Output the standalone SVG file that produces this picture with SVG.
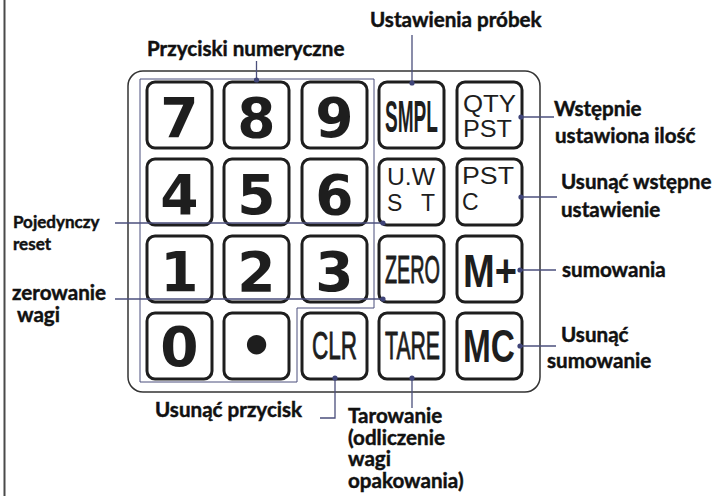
<svg xmlns="http://www.w3.org/2000/svg" width="719" height="496" viewBox="0 0 719 496">
<style>
.key{fill:#fff;stroke:#1e1e1e;stroke-width:3}
.dig{font-family:"DejaVu Sans",sans-serif;font-weight:bold;font-size:55px;fill:#1e1e1e;text-anchor:middle}
.nar{font-family:"Liberation Sans",Arial,sans-serif;font-weight:bold;fill:#1e1e1e}
.thin{font-family:"Liberation Sans",Arial,sans-serif;fill:#1e1e1e;stroke:#1e1e1e;stroke-width:0.9}
.reg{font-family:"Liberation Sans",Arial,sans-serif;fill:#1e1e1e;font-size:23px}
.lbl{font-family:Lato,"Open Sans",sans-serif;font-weight:bold;font-size:20.6px;fill:#111;stroke:#111;stroke-width:0.45}
.sm{font-size:17px}
.con{fill:none;stroke:#4b4f7c;stroke-width:1.3}
.grp{fill:none;stroke:#4b4f7c;stroke-width:1}
</style>
<defs>
<marker id="dot" markerWidth="6" markerHeight="6" refX="3" refY="3" markerUnits="userSpaceOnUse"><circle cx="3" cy="3" r="2.6" fill="#3f4478"/></marker>
</defs>
<line x1="4.5" y1="0" x2="4.5" y2="496" stroke="#4a4a4a" stroke-width="2"/>
<g id="keypad">
<rect x="128" y="71" width="412" height="321" rx="15" fill="#fff" stroke="#333" stroke-width="1.5"/>
<path class="grp" d="M140,79 H374 V308 H297 V382 H140 Z"/>
</g>
<g id="key-7"><rect class="key" x="147" y="82" width="65" height="66" rx="8"/><text class="dig" x="179.5" y="137">7</text></g>
<g id="key-8"><rect class="key" x="224" y="82" width="65" height="66" rx="8"/><text class="dig" x="256.5" y="137">8</text></g>
<g id="key-9"><rect class="key" x="302" y="82" width="65" height="66" rx="8"/><text class="dig" x="334.5" y="137">9</text></g>
<g id="key-smpl"><rect class="key" x="379" y="82" width="65" height="66" rx="8"/><text class="nar" x="385" y="132" font-size="44" textLength="53" lengthAdjust="spacingAndGlyphs">SMPL</text></g>
<g id="key-qty"><rect class="key" x="457" y="82" width="65" height="66" rx="8"/><text class="reg" x="463" y="112" textLength="53" lengthAdjust="spacingAndGlyphs">QTY</text><text class="reg" x="463" y="137" textLength="49" lengthAdjust="spacingAndGlyphs">PST</text></g>
<g id="key-4"><rect class="key" x="147" y="159" width="65" height="66" rx="8"/><text class="dig" x="179.5" y="214">4</text></g>
<g id="key-5"><rect class="key" x="224" y="159" width="65" height="66" rx="8"/><text class="dig" x="256.5" y="214">5</text></g>
<g id="key-6"><rect class="key" x="302" y="159" width="65" height="66" rx="8"/><text class="dig" x="334.5" y="214">6</text></g>
<g id="key-uwst"><rect class="key" x="379" y="159" width="65" height="66" rx="8"/><text class="reg" x="387" y="185" textLength="48" lengthAdjust="spacingAndGlyphs">U.W</text><text class="reg" x="387" y="211" textLength="48" lengthAdjust="spacing">S T</text></g>
<g id="key-pstc"><rect class="key" x="457" y="159" width="65" height="66" rx="8"/><text class="reg" x="462" y="184" textLength="52" lengthAdjust="spacingAndGlyphs">PST</text><text class="reg" x="462" y="210">C</text></g>
<g id="key-1"><rect class="key" x="147" y="236" width="65" height="66" rx="8"/><text class="dig" x="179.5" y="291">1</text></g>
<g id="key-2"><rect class="key" x="224" y="236" width="65" height="66" rx="8"/><text class="dig" x="256.5" y="291">2</text></g>
<g id="key-3"><rect class="key" x="302" y="236" width="65" height="66" rx="8"/><text class="dig" x="334.5" y="291">3</text></g>
<g id="key-zero"><rect class="key" x="379" y="236" width="65" height="66" rx="8"/><text class="thin" x="385" y="283" font-size="39" textLength="55" lengthAdjust="spacingAndGlyphs">ZERO</text></g>
<g id="key-mplus"><rect class="key" x="457" y="236" width="65" height="66" rx="8"/><text class="nar" x="463" y="287" font-size="47" textLength="54" lengthAdjust="spacingAndGlyphs">M+</text></g>
<g id="key-0"><rect class="key" x="147" y="313" width="65" height="66" rx="8"/><text class="dig" x="179.5" y="366">0</text></g>
<g id="key-dot"><rect class="key" x="224" y="313" width="65" height="66" rx="8"/><text class="dig" x="256.5" y="365" font-size="46">•</text></g>
<g id="key-clr"><rect class="key" x="302" y="313" width="65" height="66" rx="8"/><text class="thin" x="312" y="359" font-size="38" textLength="45" lengthAdjust="spacingAndGlyphs">CLR</text></g>
<g id="key-tare"><rect class="key" x="379" y="313" width="65" height="66" rx="8"/><text class="thin" x="385" y="359" font-size="38" textLength="55" lengthAdjust="spacingAndGlyphs">TARE</text></g>
<g id="key-mc"><rect class="key" x="457" y="313" width="65" height="66" rx="8"/><text class="nar" x="463" y="362" font-size="47" textLength="52" lengthAdjust="spacingAndGlyphs">MC</text></g>
<g id="connectors">
<path class="con" marker-start="url(#dot)" d="M256.5,80 V61"/>
<path class="con" marker-start="url(#dot)" d="M412,83 V35"/>
<path class="con" marker-start="url(#dot)" d="M521,117 H554"/>
<path class="con" marker-start="url(#dot)" d="M521,197 H557"/>
<path class="con" marker-start="url(#dot)" d="M520,270 H556"/>
<path class="con" marker-start="url(#dot)" d="M520,346 H556"/>
<path class="con" marker-start="url(#dot)" d="M383,223 H115"/>
<path class="con" marker-start="url(#dot)" d="M383,299 H115"/>
<path class="con" marker-start="url(#dot)" d="M335,378 V418 H320"/>
<path class="con" marker-start="url(#dot)" d="M412,378 V408"/>
</g>
<g id="label-numeric"><text class="lbl" x="147" y="56">Przyciski numeryczne</text></g>
<g id="label-sample"><text class="lbl" x="370" y="27">Ustawienia próbek</text></g>
<g id="label-preset"><text class="lbl" x="554" y="116">Wstępnie</text><text class="lbl" x="555" y="143">ustawiona ilość</text></g>
<g id="label-preset-clear"><text class="lbl" x="561" y="189">Usunąć wstępne</text><text class="lbl" x="561" y="217">ustawienie</text></g>
<g id="label-sum"><text class="lbl" x="562" y="277">sumowania</text></g>
<g id="label-sum-clear"><text class="lbl" x="561" y="342">Usunąć</text><text class="lbl" x="547" y="368">sumowanie</text></g>
<g id="label-reset"><text class="lbl sm" x="13" y="228">Pojedynczy</text><text class="lbl sm" x="13" y="250">reset</text></g>
<g id="label-zero"><text class="lbl" x="12" y="300">zerowanie</text><text class="lbl" x="17" y="322">wagi</text></g>
<g id="label-clear"><text class="lbl" x="155" y="417">Usunąć przycisk</text></g>
<g id="label-tare"><text class="lbl" x="348" y="423">Tarowanie</text><text class="lbl" x="348" y="445">(odliczenie</text><text class="lbl" x="348" y="466">wagi</text><text class="lbl" x="348" y="488">opakowania)</text></g>
</svg>
